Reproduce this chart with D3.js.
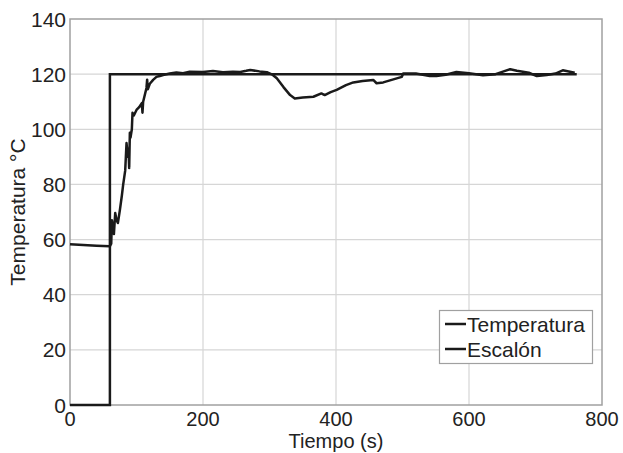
<!DOCTYPE html>
<html><head><meta charset="utf-8">
<script src="https://cdn.jsdelivr.net/npm/d3@7"></script>
<style>body{margin:0;background:#fff}svg{display:block}text{font-family:"Liberation Sans",Arial,sans-serif;fill:#222}</style>
</head><body><svg id="c" width="623" height="453"></svg>
<script>
const xTicks=[0,200,400,600,800];
const yTicks=[0,20,40,60,80,100,120,140];
const tempT=[0,20,40,60,62,63,66,68,70,72,75,78,80,83,85,87,88,89,90,91,93,94,96,100,104,108,109,110,113,115,116,117,120,125,130,135,140,150,160,170,180,200,215,230,245,256,265,271,285,296,305,311,321,331,338,350,366,378,383,392,401,415,426,440,456,461,471,485,499,501,520,541,551,565,581,600,621,640,662,672,690,702,717,730,741,759];
const tempV=[58.3,58.0,57.8,57.6,58.5,67,62,69.6,67,66,70.7,76,80,85,95,90,93,86,98.7,97,100,106,105,107,108,109.5,106,110,113,115,118,114.5,116.5,117.9,119,119.3,119.7,120.2,120.6,120.3,120.9,120.8,121.1,120.7,120.9,120.8,121.2,121.5,121.0,120.7,119.7,118.5,115.3,112.4,111.2,111.5,111.8,113,112.4,113.5,114.3,116,117,117.5,117.9,116.7,117,118,119,120.2,120.2,119.3,119.3,119.8,120.8,120.3,119.6,120,121.8,121.2,120.5,119.3,119.7,120.2,121.4,120.5];
const stepT=[0,60,60,762];
const stepV=[0,0,120,120];
const legendLabels=["Temperatura","Escalón"];

const svg=d3.select("#c");
const x=d3.scaleLinear().domain([0,800]).range([70,602]);
const y=d3.scaleLinear().domain([0,140]).range([405,19]);

// grid
svg.append("g").selectAll("line").data(xTicks.slice(1,-1)).join("line")
 .attr("x1",d=>x(d)).attr("x2",d=>x(d)).attr("y1",y(0)).attr("y2",y(140))
 .attr("stroke","#d6d6d6").attr("stroke-width",1.2);
svg.append("g").selectAll("line").data(yTicks.slice(1,-1)).join("line")
 .attr("x1",x(0)).attr("x2",x(800)).attr("y1",d=>y(d)).attr("y2",d=>y(d))
 .attr("stroke","#d6d6d6").attr("stroke-width",1.2);

// axis box
svg.append("rect").attr("x",x(0)).attr("y",y(140)).attr("width",x(800)-x(0)).attr("height",y(0)-y(140))
 .attr("fill","none").attr("stroke","#a0a0a0").attr("stroke-width",1.5);

const line=d3.line().x(d=>x(d[0])).y(d=>y(d[1]));
svg.append("path").datum(stepT.map((t,i)=>[t,stepV[i]])).attr("d",line)
 .attr("fill","none").attr("stroke","#1a1a1a").attr("stroke-width",2.5);
svg.append("path").datum(tempT.map((t,i)=>[t,tempV[i]])).attr("d",line)
 .attr("fill","none").attr("stroke","#1a1a1a").attr("stroke-width",2.5).attr("stroke-linejoin","round");

// tick labels
svg.append("g").selectAll("text").data(xTicks).join("text")
 .attr("x",d=>x(d)).attr("y",426).attr("text-anchor","middle").attr("font-size",20).text(d=>d);
svg.append("g").selectAll("text").data(yTicks).join("text")
 .attr("x",66).attr("y",d=>y(d)+7.5).attr("text-anchor","end").attr("font-size",21).text(d=>d);

svg.append("text").attr("x",x(400)).attr("y",448).attr("text-anchor","middle").attr("font-size",20).text("Tiempo (s)");
svg.append("text").attr("transform","translate(25,"+((y(0)+y(140))/2)+") rotate(-90)").attr("text-anchor","middle").attr("font-size",21).text("Temperatura °C");

// legend
const lg=svg.append("g");
lg.append("rect").attr("x",439.5).attr("y",310.5).attr("width",153).attr("height",53)
 .attr("fill","#fff").attr("stroke","#a0a0a0").attr("stroke-width",1.2);
legendLabels.forEach((l,i)=>{
 const yy=324+i*25;
 lg.append("line").attr("x1",445).attr("x2",466).attr("y1",yy).attr("y2",yy).attr("stroke","#1a1a1a").attr("stroke-width",2.5);
 lg.append("text").attr("x",467).attr("y",yy+7.5).attr("font-size",21).text(l);
});
</script></body></html>
